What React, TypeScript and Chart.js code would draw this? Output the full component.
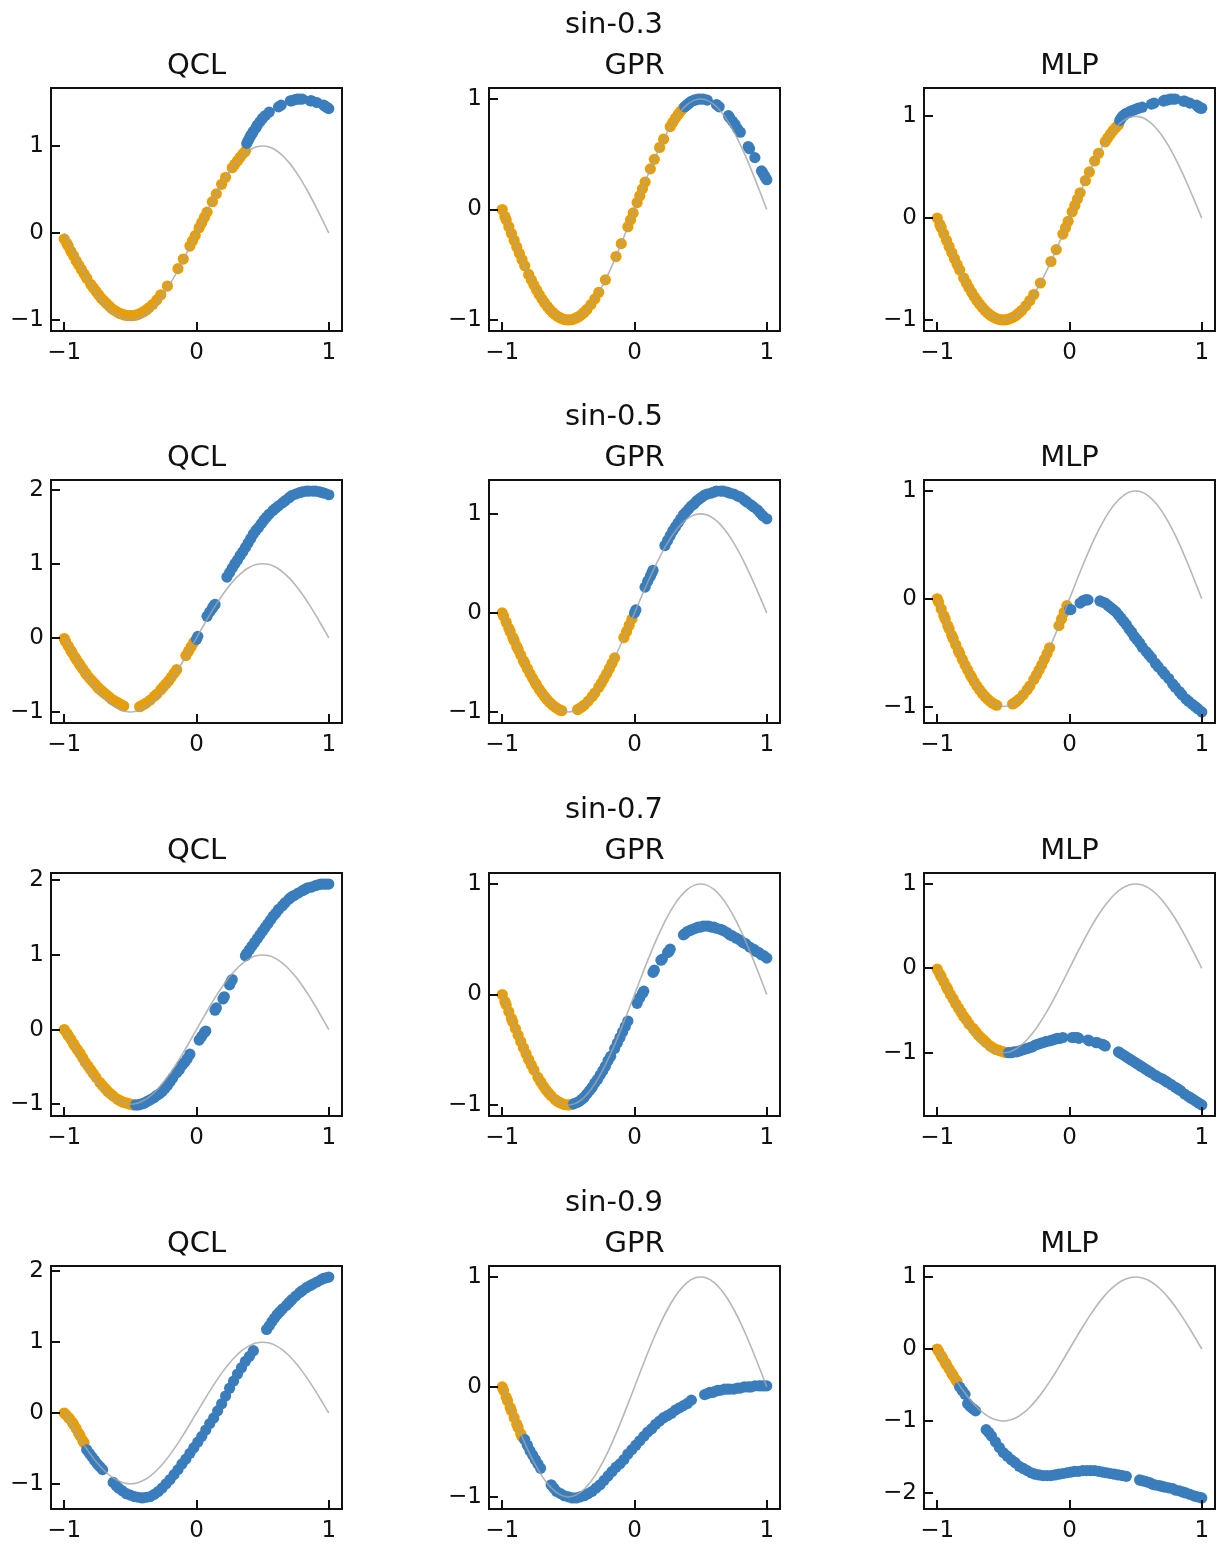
import React, { useEffect, useRef } from 'react';
import { Chart, registerables } from 'chart.js';

Chart.register(...registerables);

const FONT = '"DejaVu Sans", "Liberation Sans", sans-serif';
const ORANGE = '#e69f0c';
const BLUE = '#3a7dbd';
const LINE = 'rgba(165,165,165,0.8)';
const INK = '#111111';

// ---- layout ----
const COL_LEFT = [51, 489, 924];
const ROW_TOP = [88, 480, 873, 1266];
const FRAME_W = 291;
const FRAME_H = 243;
const PAD_L = 55;
const PAD_T = 85;
const PAD_R = 12;
const PAD_B = 45;
const ROW_TITLE_X = 614;
const TICK_LEN = 9;
const TICK_FONT = 23;
const TITLE_FONT = 29;
const DOT = 5.6;

// ---- labels ----
const rowTitles = ['sin-0.3', 'sin-0.5', 'sin-0.7', 'sin-0.9'];
const modelNames = ['QCL', 'GPR', 'MLP'];
const xTickValues = [-1, 0, 1];

// ---- reference curve ----
const curveX = [-1, -0.95, -0.9, -0.85, -0.8, -0.75, -0.7, -0.65, -0.6, -0.55, -0.5, -0.45, -0.4, -0.35, -0.3, -0.25, -0.2, -0.15, -0.1, -0.05, 0, 0.05, 0.1, 0.15, 0.2, 0.25, 0.3, 0.35, 0.4, 0.45, 0.5, 0.55, 0.6, 0.65, 0.7, 0.75, 0.8, 0.85, 0.9, 0.95, 1];
const curveY = [0, -0.156, -0.309, -0.454, -0.588, -0.707, -0.809, -0.891, -0.951, -0.988, -1, -0.988, -0.951, -0.891, -0.809, -0.707, -0.588, -0.454, -0.309, -0.156, 0, 0.156, 0.309, 0.454, 0.588, 0.707, 0.809, 0.891, 0.951, 0.988, 1, 0.988, 0.951, 0.891, 0.809, 0.707, 0.588, 0.454, 0.309, 0.156, 0];

// ---- row 1 : sin-0.3 ----
const r1TrainX = [-1.00, -0.98, -0.97, -0.95, -0.93, -0.91, -0.89, -0.87, -0.85, -0.83, -0.80, -0.78, -0.76, -0.74, -0.72, -0.70, -0.68, -0.66, -0.64, -0.62, -0.60, -0.58, -0.56, -0.54, -0.52, -0.50, -0.48, -0.46, -0.44, -0.42, -0.40, -0.38, -0.36, -0.33, -0.30, -0.27, -0.22, -0.14, -0.10, -0.05, -0.03, -0.01, 0.02, 0.04, 0.06, 0.08, 0.12, 0.15, 0.19, 0.22, 0.27, 0.29, 0.31, 0.33, 0.35, 0.37];
const r1TrainTrue = [0, -0.063, -0.094, -0.156, -0.218, -0.279, -0.339, -0.397, -0.454, -0.509, -0.588, -0.637, -0.685, -0.729, -0.771, -0.809, -0.844, -0.876, -0.905, -0.930, -0.951, -0.969, -0.982, -0.992, -0.998, -1, -0.998, -0.992, -0.982, -0.969, -0.951, -0.930, -0.905, -0.861, -0.809, -0.750, -0.637, -0.426, -0.309, -0.156, -0.094, -0.031, 0.063, 0.125, 0.187, 0.249, 0.368, 0.454, 0.562, 0.637, 0.750, 0.790, 0.827, 0.861, 0.891, 0.918];
const r1QclTrain = [-0.07, -0.12, -0.15, -0.21, -0.26, -0.32, -0.37, -0.42, -0.47, -0.52, -0.59, -0.63, -0.67, -0.71, -0.75, -0.78, -0.81, -0.84, -0.87, -0.89, -0.91, -0.925, -0.935, -0.945, -0.95, -0.95, -0.95, -0.945, -0.935, -0.92, -0.905, -0.885, -0.86, -0.82, -0.77, -0.71, -0.61, -0.41, -0.30, -0.15, -0.09, -0.03, 0.06, 0.12, 0.18, 0.24, 0.36, 0.45, 0.56, 0.64, 0.75, 0.79, 0.83, 0.87, 0.91, 0.94];
const r1TestX = [0.38, 0.39, 0.40, 0.41, 0.42, 0.43, 0.45, 0.46, 0.48, 0.50, 0.52, 0.55, 0.62, 0.64, 0.71, 0.72, 0.74, 0.76, 0.78, 0.80, 0.86, 0.87, 0.91, 0.96, 0.97, 0.98, 0.99, 1.00];
const r1QclTest = [1.03, 1.06, 1.09, 1.12, 1.14, 1.17, 1.21, 1.24, 1.28, 1.32, 1.35, 1.39, 1.45, 1.47, 1.52, 1.52, 1.53, 1.54, 1.54, 1.54, 1.52, 1.52, 1.50, 1.47, 1.46, 1.45, 1.44, 1.43];
const r1GprTest = [0.93, 0.94, 0.95, 0.96, 0.97, 0.98, 0.99, 0.99, 1.00, 1.00, 1.00, 0.99, 0.95, 0.93, 0.85, 0.83, 0.80, 0.77, 0.73, 0.70, 0.57, 0.55, 0.47, 0.35, 0.33, 0.31, 0.29, 0.27];
const r1MlpTest = [0.96, 0.98, 1.00, 1.01, 1.02, 1.03, 1.04, 1.05, 1.06, 1.07, 1.08, 1.09, 1.12, 1.13, 1.15, 1.16, 1.16, 1.17, 1.17, 1.17, 1.15, 1.15, 1.13, 1.11, 1.10, 1.09, 1.08, 1.08];

// ---- row 2 : sin-0.5 ----
const r2TrainX = [-1.00, -0.99, -0.97, -0.95, -0.94, -0.92, -0.91, -0.89, -0.88, -0.86, -0.84, -0.83, -0.81, -0.79, -0.77, -0.75, -0.74, -0.72, -0.70, -0.68, -0.66, -0.64, -0.62, -0.60, -0.58, -0.56, -0.55, -0.43, -0.42, -0.40, -0.38, -0.35, -0.32, -0.30, -0.27, -0.25, -0.23, -0.21, -0.19, -0.17, -0.15, -0.08, -0.06, -0.04, -0.02];
const r2TrainTrue = [0, -0.031, -0.094, -0.156, -0.187, -0.249, -0.279, -0.339, -0.368, -0.426, -0.482, -0.509, -0.562, -0.613, -0.661, -0.707, -0.729, -0.771, -0.809, -0.844, -0.876, -0.905, -0.930, -0.951, -0.969, -0.982, -0.988, -0.976, -0.969, -0.951, -0.930, -0.891, -0.844, -0.809, -0.750, -0.707, -0.661, -0.613, -0.562, -0.509, -0.454, -0.249, -0.187, -0.125, -0.063];
const r2QclTrain = [-0.01, -0.05, -0.11, -0.17, -0.20, -0.26, -0.29, -0.34, -0.37, -0.42, -0.47, -0.50, -0.54, -0.58, -0.62, -0.66, -0.68, -0.71, -0.74, -0.77, -0.80, -0.83, -0.85, -0.87, -0.89, -0.91, -0.92, -0.93, -0.92, -0.90, -0.88, -0.84, -0.79, -0.76, -0.70, -0.66, -0.62, -0.58, -0.53, -0.48, -0.43, -0.24, -0.18, -0.12, -0.06];
const r2TestX = [0.00, 0.01, 0.08, 0.10, 0.12, 0.13, 0.14, 0.23, 0.25, 0.27, 0.29, 0.31, 0.33, 0.35, 0.37, 0.39, 0.41, 0.43, 0.45, 0.47, 0.49, 0.51, 0.53, 0.55, 0.58, 0.60, 0.62, 0.65, 0.67, 0.70, 0.72, 0.75, 0.78, 0.80, 0.83, 0.85, 0.88, 0.90, 0.93, 0.95, 0.97, 1.00];
const r2QclTest = [-0.02, 0.02, 0.29, 0.35, 0.40, 0.43, 0.45, 0.82, 0.88, 0.94, 1.00, 1.05, 1.11, 1.16, 1.22, 1.28, 1.34, 1.40, 1.45, 1.49, 1.54, 1.59, 1.63, 1.67, 1.72, 1.75, 1.78, 1.82, 1.85, 1.89, 1.92, 1.94, 1.96, 1.97, 1.98, 1.98, 1.98, 1.98, 1.97, 1.96, 1.95, 1.93];
const r2GprTest = [0.00, 0.03, 0.26, 0.32, 0.37, 0.40, 0.43, 0.68, 0.73, 0.78, 0.83, 0.87, 0.91, 0.95, 0.99, 1.02, 1.05, 1.08, 1.10, 1.13, 1.15, 1.17, 1.19, 1.20, 1.21, 1.22, 1.23, 1.23, 1.23, 1.22, 1.21, 1.20, 1.18, 1.17, 1.14, 1.12, 1.09, 1.07, 1.04, 1.01, 0.98, 0.95];
const r2MlpTest = [-0.10, -0.10, -0.04, -0.02, -0.01, -0.01, -0.01, -0.02, -0.03, -0.04, -0.06, -0.08, -0.10, -0.12, -0.15, -0.18, -0.21, -0.24, -0.28, -0.31, -0.35, -0.38, -0.41, -0.45, -0.49, -0.52, -0.55, -0.60, -0.63, -0.67, -0.70, -0.74, -0.79, -0.82, -0.86, -0.89, -0.93, -0.95, -0.98, -1.00, -1.02, -1.05];

// ---- row 3 : sin-0.7 ----
const r3TrainX = [-1.00, -0.98, -0.97, -0.95, -0.93, -0.92, -0.90, -0.88, -0.86, -0.84, -0.82, -0.80, -0.78, -0.76, -0.73, -0.71, -0.69, -0.67, -0.65, -0.63, -0.60, -0.58, -0.56, -0.54, -0.52, -0.50, -0.48];
const r3TrainTrue = [0, -0.063, -0.094, -0.156, -0.218, -0.249, -0.309, -0.368, -0.426, -0.482, -0.536, -0.588, -0.637, -0.685, -0.750, -0.790, -0.827, -0.861, -0.891, -0.918, -0.951, -0.969, -0.982, -0.992, -0.998, -1, -0.998];
const r3QclTrain = [0.00, -0.05, -0.08, -0.13, -0.19, -0.22, -0.27, -0.32, -0.38, -0.44, -0.49, -0.54, -0.59, -0.64, -0.71, -0.75, -0.79, -0.83, -0.86, -0.89, -0.93, -0.95, -0.97, -0.98, -0.99, -1.00, -1.01];
const r3MlpTrain = [-0.01, -0.07, -0.10, -0.16, -0.22, -0.25, -0.31, -0.36, -0.42, -0.47, -0.52, -0.57, -0.61, -0.66, -0.71, -0.75, -0.79, -0.82, -0.85, -0.88, -0.92, -0.94, -0.96, -0.97, -0.98, -0.99, -1.00];
const r3TestX = [-0.46, -0.44, -0.42, -0.40, -0.38, -0.36, -0.34, -0.32, -0.30, -0.28, -0.26, -0.24, -0.22, -0.20, -0.18, -0.15, -0.13, -0.11, -0.09, -0.07, -0.05, 0.02, 0.04, 0.06, 0.07, 0.14, 0.15, 0.20, 0.21, 0.25, 0.26, 0.27, 0.37, 0.38, 0.40, 0.42, 0.44, 0.46, 0.48, 0.50, 0.52, 0.54, 0.56, 0.58, 0.60, 0.62, 0.65, 0.67, 0.70, 0.72, 0.74, 0.77, 0.80, 0.82, 0.84, 0.87, 0.90, 0.92, 0.94, 0.96, 0.98, 1.00];
const r3QclTest = [-1.01, -1.01, -1.00, -0.99, -0.97, -0.95, -0.93, -0.91, -0.88, -0.86, -0.83, -0.79, -0.75, -0.70, -0.65, -0.58, -0.54, -0.48, -0.44, -0.39, -0.33, -0.14, -0.09, -0.04, -0.02, 0.26, 0.29, 0.41, 0.44, 0.60, 0.64, 0.67, 0.99, 1.02, 1.07, 1.12, 1.17, 1.22, 1.27, 1.32, 1.37, 1.42, 1.47, 1.52, 1.56, 1.61, 1.66, 1.70, 1.75, 1.78, 1.80, 1.83, 1.86, 1.88, 1.90, 1.91, 1.93, 1.94, 1.95, 1.95, 1.95, 1.95];
const r3GprTest = [-0.99, -0.98, -0.97, -0.95, -0.93, -0.90, -0.87, -0.84, -0.80, -0.77, -0.73, -0.69, -0.65, -0.60, -0.56, -0.49, -0.44, -0.39, -0.34, -0.29, -0.24, -0.08, -0.03, 0.01, 0.03, 0.20, 0.22, 0.31, 0.32, 0.38, 0.39, 0.41, 0.54, 0.55, 0.57, 0.58, 0.59, 0.60, 0.61, 0.61, 0.62, 0.62, 0.62, 0.61, 0.61, 0.60, 0.59, 0.58, 0.56, 0.54, 0.53, 0.51, 0.49, 0.47, 0.46, 0.43, 0.41, 0.39, 0.38, 0.36, 0.35, 0.33];
const r3MlpTest = [-1.00, -1.00, -0.99, -0.99, -0.98, -0.97, -0.96, -0.95, -0.94, -0.93, -0.91, -0.90, -0.89, -0.88, -0.87, -0.86, -0.85, -0.84, -0.83, -0.83, -0.82, -0.82, -0.82, -0.82, -0.83, -0.85, -0.86, -0.88, -0.88, -0.90, -0.91, -0.92, -0.99, -1.00, -1.02, -1.04, -1.06, -1.08, -1.10, -1.12, -1.14, -1.16, -1.18, -1.20, -1.22, -1.24, -1.27, -1.29, -1.31, -1.33, -1.35, -1.38, -1.41, -1.43, -1.45, -1.49, -1.52, -1.54, -1.56, -1.58, -1.60, -1.62];

// ---- row 4 : sin-0.9 ----
const r4TrainX = [-1.00, -0.99, -0.97, -0.96, -0.94, -0.93, -0.91, -0.89, -0.88, -0.86, -0.85];
const r4TrainTrue = [0, -0.031, -0.094, -0.125, -0.187, -0.218, -0.279, -0.339, -0.368, -0.426, -0.454];
const r4QclTrain = [0.00, -0.02, -0.06, -0.08, -0.13, -0.16, -0.22, -0.29, -0.32, -0.39, -0.42];
const r4TestX = [-0.83, -0.81, -0.79, -0.77, -0.75, -0.73, -0.71, -0.63, -0.61, -0.59, -0.56, -0.53, -0.50, -0.47, -0.44, -0.41, -0.38, -0.35, -0.32, -0.29, -0.26, -0.23, -0.20, -0.17, -0.14, -0.11, -0.08, -0.05, -0.02, 0.01, 0.04, 0.07, 0.10, 0.13, 0.16, 0.19, 0.22, 0.25, 0.28, 0.31, 0.34, 0.37, 0.40, 0.43, 0.53, 0.55, 0.57, 0.59, 0.61, 0.63, 0.65, 0.68, 0.70, 0.72, 0.75, 0.78, 0.80, 0.83, 0.86, 0.88, 0.91, 0.94, 0.96, 0.98, 1.00];
const r4QclTest = [-0.52, -0.57, -0.62, -0.67, -0.72, -0.76, -0.80, -0.98, -1.02, -1.06, -1.10, -1.14, -1.16, -1.18, -1.19, -1.20, -1.19, -1.18, -1.15, -1.11, -1.06, -1.00, -0.94, -0.87, -0.80, -0.72, -0.65, -0.57, -0.49, -0.41, -0.33, -0.24, -0.15, -0.07, 0.03, 0.13, 0.24, 0.35, 0.45, 0.55, 0.64, 0.73, 0.80, 0.88, 1.18, 1.23, 1.29, 1.34, 1.39, 1.43, 1.47, 1.52, 1.56, 1.60, 1.65, 1.70, 1.73, 1.77, 1.80, 1.82, 1.85, 1.88, 1.90, 1.91, 1.92];
const r4GprTest = [-0.48, -0.53, -0.58, -0.62, -0.66, -0.70, -0.74, -0.89, -0.92, -0.95, -0.97, -0.99, -1.00, -1.01, -1.01, -1.00, -0.99, -0.97, -0.95, -0.92, -0.89, -0.85, -0.81, -0.77, -0.73, -0.70, -0.66, -0.61, -0.57, -0.53, -0.49, -0.45, -0.41, -0.38, -0.34, -0.31, -0.28, -0.26, -0.24, -0.21, -0.19, -0.17, -0.15, -0.12, -0.07, -0.06, -0.05, -0.05, -0.04, -0.03, -0.03, -0.02, -0.02, -0.02, -0.02, -0.01, -0.01, 0.00, 0.00, 0.00, 0.01, 0.01, 0.01, 0.01, 0.01];
const r4MlpTest = [-0.53, -0.58, -0.63, -0.76, -0.80, -0.83, -0.86, -1.12, -1.16, -1.21, -1.29, -1.37, -1.44, -1.49, -1.54, -1.58, -1.63, -1.66, -1.69, -1.72, -1.74, -1.75, -1.76, -1.76, -1.76, -1.75, -1.74, -1.73, -1.72, -1.71, -1.70, -1.70, -1.69, -1.69, -1.69, -1.69, -1.70, -1.71, -1.72, -1.73, -1.74, -1.75, -1.76, -1.77, -1.82, -1.83, -1.84, -1.85, -1.86, -1.88, -1.89, -1.90, -1.91, -1.92, -1.93, -1.94, -1.96, -1.97, -1.99, -2.00, -2.02, -2.04, -2.05, -2.06, -2.07];

const ROWS = [
  { trainX: r1TrainX, testX: r1TestX, fits: [[r1QclTrain, r1QclTest], [r1TrainTrue, r1GprTest], [r1TrainTrue, r1MlpTest]] },
  { trainX: r2TrainX, testX: r2TestX, fits: [[r2QclTrain, r2QclTest], [r2TrainTrue, r2GprTest], [r2TrainTrue, r2MlpTest]] },
  { trainX: r3TrainX, testX: r3TestX, fits: [[r3QclTrain, r3QclTest], [r3TrainTrue, r3GprTest], [r3MlpTrain, r3MlpTest]] },
  { trainX: r4TrainX, testX: r4TestX, fits: [[r4QclTrain, r4QclTest], [r4TrainTrue, r4GprTest], [r4TrainTrue, r4MlpTest]] },
];

const toXY = (xs: number[], ys: number[]) => xs.map((x, i) => ({ x, y: ys[i] }));
const fmt = (v: any) => (Number(v) < 0 ? '\u2212' + Math.abs(Number(v)) : String(v));

const framePlugin = {
  id: 'frameDeco',
  afterDatasetsDraw(chart: any, _args: any, opts: any) {
    const { ctx, chartArea: a, scales } = chart;
    ctx.save();
    ctx.strokeStyle = INK;
    ctx.lineWidth = 2;
    ctx.strokeRect(a.left, a.top, a.right - a.left, a.bottom - a.top);
    ctx.beginPath();
    for (const t of scales.x.ticks) {
      const px = Math.round(scales.x.getPixelForValue(t.value));
      ctx.moveTo(px, a.bottom);
      ctx.lineTo(px, a.bottom - TICK_LEN);
    }
    for (const t of scales.y.ticks) {
      const py = Math.round(scales.y.getPixelForValue(t.value));
      ctx.moveTo(a.left, py);
      ctx.lineTo(a.left + TICK_LEN, py);
    }
    ctx.stroke();
    ctx.fillStyle = INK;
    ctx.font = `${TITLE_FONT}px ${FONT}`;
    ctx.textAlign = 'center';
    ctx.textBaseline = 'alphabetic';
    ctx.fillText(opts.title, (a.left + a.right) / 2, a.top - 14);
    if (opts.rowTitle) {
      ctx.fillText(opts.rowTitle, opts.rowTitleX, a.top - 55);
    }
    ctx.restore();
  },
};

function Panel({ row, col }: { row: number; col: number }) {
  const ref = useRef<HTMLCanvasElement | null>(null);
  const left = COL_LEFT[col] - PAD_L;
  const top = ROW_TOP[row] - PAD_T;
  const width = PAD_L + FRAME_W + PAD_R;
  const height = PAD_T + FRAME_H + PAD_B;

  useEffect(() => {
    const spec = ROWS[row];
    const [trainY, testY] = spec.fits[col];
    const all = curveY.concat(trainY, testY);
    const lo = Math.min(...all);
    const hi = Math.max(...all);
    const pad = 0.05 * (hi - lo);
    const yMin = lo - pad;
    const yMax = hi + pad;
    const yTicks: number[] = [];
    for (let v = Math.ceil(yMin); v <= Math.floor(yMax); v++) yTicks.push(v);

    const chart = new Chart(ref.current as HTMLCanvasElement, {
      type: 'scatter',
      data: {
        datasets: [
          {
            data: toXY(curveX, curveY),
            showLine: true,
            borderColor: LINE,
            borderWidth: 1.6,
            pointRadius: 0,
            tension: 0.4,
            cubicInterpolationMode: 'monotone',
          } as any,
          {
            data: toXY(spec.testX, testY),
            backgroundColor: BLUE,
            borderWidth: 0,
            pointRadius: DOT,
          },
          {
            data: toXY(spec.trainX, trainY),
            backgroundColor: ORANGE,
            borderWidth: 0,
            pointRadius: DOT,
          },
        ],
      },
      options: {
        animation: false,
        responsive: false,
        devicePixelRatio: 1,
        events: [],
        layout: { padding: { left: 0, top: PAD_T, right: PAD_R, bottom: 0 } },
        plugins: {
          legend: { display: false },
          tooltip: { enabled: false },
          title: { display: false },
          frameDeco: {
            title: modelNames[col],
            rowTitle: col === 1 ? rowTitles[row] : '',
            rowTitleX: ROW_TITLE_X - left,
          },
        } as any,
        scales: {
          x: {
            type: 'linear',
            min: -1.1,
            max: 1.1,
            grid: { display: false, drawTicks: false },
            border: { display: false },
            afterBuildTicks: (s: any) => {
              s.ticks = xTickValues.map((v) => ({ value: v }));
            },
            afterFit: (s: any) => {
              s.height = PAD_B;
            },
            ticks: {
              autoSkip: false,
              maxRotation: 0,
              padding: 8,
              color: INK,
              font: { family: FONT, size: TICK_FONT },
              callback: fmt,
            },
          },
          y: {
            type: 'linear',
            min: yMin,
            max: yMax,
            grid: { display: false, drawTicks: false },
            border: { display: false },
            afterBuildTicks: (s: any) => {
              s.ticks = yTicks.map((v) => ({ value: v }));
            },
            afterFit: (s: any) => {
              s.width = PAD_L;
            },
            ticks: {
              autoSkip: false,
              padding: 7,
              color: INK,
              font: { family: FONT, size: TICK_FONT },
              callback: fmt,
            },
          },
        },
      },
      plugins: [framePlugin as any],
    });
    return () => chart.destroy();
  }, [row, col]);

  return (
    <canvas
      ref={ref}
      width={width}
      height={height}
      style={{ position: 'absolute', left, top, width, height, display: 'block' }}
    />
  );
}

export default function App() {
  const cells: any[] = [];
  for (let r = 0; r < 4; r++) {
    for (let c = 0; c < 3; c++) {
      cells.push(<Panel key={`${r}-${c}`} row={r} col={c} />);
    }
  }
  return (
    <div
      style={{
        position: 'absolute',
        left: 0,
        top: 0,
        width: 1222,
        height: 1546,
        background: '#ffffff',
        overflow: 'hidden',
      }}
    >
      {cells}
    </div>
  );
}
